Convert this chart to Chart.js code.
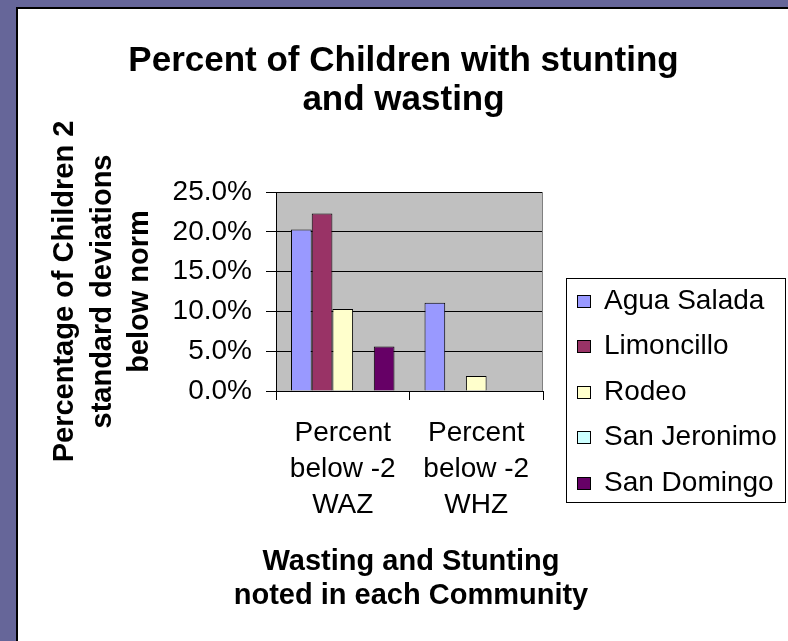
<!DOCTYPE html>
<html>
<head>
<meta charset="utf-8">
<script src="https://cdn.jsdelivr.net/npm/chart.js@4.4.0/dist/chart.umd.min.js"></script>
<style>
  html, body { margin: 0; padding: 0; background: #666699; }
  canvas { display: block; }
</style>
</head>
<body>
<canvas id="chart" width="788" height="641"></canvas>
<script>
// --- DATA ---
const categories = [['Percent', 'below -2', 'WAZ'], ['Percent', 'below -2', 'WHZ']];
const communities = ['Agua Salada', 'Limoncillo', 'Rodeo', 'San Jeronimo', 'San Domingo'];
const aguaSalada = [20.3, 11.1];
const limoncillo = [22.3, 0];
const rodeo = [10.3, 1.9];
const sanJeronimo = [0, 0];
const sanDomingo = [5.6, 0];
const yTicks = [0, 5, 10, 15, 20, 25];

const chartTitle = ['Percent of Children with stunting', 'and wasting'];
const yTitle = ['Percentage of Children 2', 'standard deviations', 'below norm'];
const xTitle = ['Wasting and Stunting', 'noted in each Community'];

const seriesColors = ['#9999ff', '#993366', '#ffffcc', '#ccffff', '#660066'];
const FONT = "'Liberation Sans', Arial, sans-serif";

// background frame, grey plot area, x axis title and boxed legend
const framePlugin = {
    id: 'frame',
    beforeDraw(chart) {
        const ctx = chart.ctx, a = chart.chartArea;
        ctx.save();
        ctx.fillStyle = '#666699';
        ctx.fillRect(0, 0, chart.width, chart.height);
        ctx.fillStyle = '#000';
        ctx.fillRect(16, 7, chart.width - 16, chart.height - 7);
        ctx.fillStyle = '#fff';
        ctx.fillRect(18, 9, chart.width - 18, chart.height - 9);
        ctx.fillStyle = '#c0c0c0';
        ctx.fillRect(a.left, a.top, a.right - a.left, a.bottom - a.top);
        ctx.restore();
    },
    afterDraw(chart) {
        const ctx = chart.ctx, a = chart.chartArea;
        ctx.save();
        ctx.strokeStyle = '#808080';
        ctx.lineWidth = 1;
        ctx.beginPath();
        ctx.moveTo(a.right - 0.5, a.top);
        ctx.lineTo(a.right - 0.5, a.bottom);
        ctx.stroke();

        // x axis title (wider than the plot, so not squeezed into it)
        ctx.fillStyle = '#000';
        ctx.font = 'bold 29px ' + FONT;
        ctx.textAlign = 'center';
        ctx.textBaseline = 'middle';
        const cx = (a.left + a.right) / 2 + 1.5;
        xTitle.forEach((line, i) => ctx.fillText(line, cx, 562 + i * 34));

        // legend
        const items = Chart.defaults.plugins.legend.labels.generateLabels(chart);
        const boxLeft = 566, boxTop = 278, boxRight = 785, boxBottom = 502;
        ctx.strokeStyle = '#000';
        ctx.strokeRect(boxLeft + 0.5, boxTop + 0.5, boxRight - boxLeft, boxBottom - boxTop);
        ctx.font = '28px ' + FONT;
        ctx.textAlign = 'left';
        items.forEach((it, i) => {
            const cy = 301 + i * 45.5;
            const y0 = Math.round(cy - 6.5);
            ctx.fillStyle = it.fillStyle;
            ctx.fillRect(577, y0, 14, 13);
            ctx.strokeStyle = '#000';
            ctx.strokeRect(577.5, y0 + 0.5, 13, 12);
            ctx.fillStyle = '#000';
            ctx.fillText(it.text, 604, cy);
        });
        ctx.restore();
    }
};

const seriesData = [aguaSalada, limoncillo, rodeo, sanJeronimo, sanDomingo];

new Chart(document.getElementById('chart'), {
    type: 'bar',
    data: {
        labels: categories,
        datasets: communities.map((name, i) => ({
            label: name,
            data: seriesData[i],
            backgroundColor: seriesColors[i],
            borderColor: '#000',
            borderWidth: 1,
            categoryPercentage: 0.775,
            barPercentage: 1.0
        }))
    },
    options: {
        responsive: false,
        animation: false,
        devicePixelRatio: 1,
        layout: { padding: { left: 22.5, right: 3.5, top: 0, bottom: 0 } },
        plugins: {
            tooltip: { enabled: false },
            legend: { display: false },
            title: {
                display: true,
                text: chartTitle,
                color: '#000',
                font: { family: FONT, size: 35, weight: 'bold', lineHeight: 39 / 35 },
                padding: { top: 42, bottom: 72 }
            }
        },
        scales: {
            x: {
                grid: { display: true, drawOnChartArea: false, drawTicks: true, tickLength: 9, color: '#000' },
                border: { display: true, color: '#000' },
                ticks: { color: '#000', font: { family: FONT, size: 28, lineHeight: 1.277 }, padding: 15.5, maxRotation: 0 },
                title: { display: false },
                afterFit(s) { s.height = 250; }
            },
            y: {
                min: 0, max: 25,
                afterBuildTicks(s) { s.ticks = yTicks.map(v => ({ value: v })); },
                grid: { color: '#000', tickLength: 10 },
                border: { display: true, color: '#000' },
                ticks: { color: '#000', font: { family: FONT, size: 28 }, padding: 14, callback: v => v.toFixed(1) + '%' },
                title: {
                    display: true, text: yTitle, color: '#000',
                    font: { family: FONT, size: 29, weight: 'bold', lineHeight: 37.5 / 29 },
                    padding: { top: 23.75, bottom: 0 }
                },
                afterFit(s) { s.width = 253.5; }
            },
            gap: {
                position: 'right',
                display: true,
                grid: { display: false },
                border: { display: false },
                ticks: { display: false },
                afterFit(s) { s.width = 241.5; }
            }
        }
    },
    plugins: [framePlugin]
});
</script>
</body>
</html>
